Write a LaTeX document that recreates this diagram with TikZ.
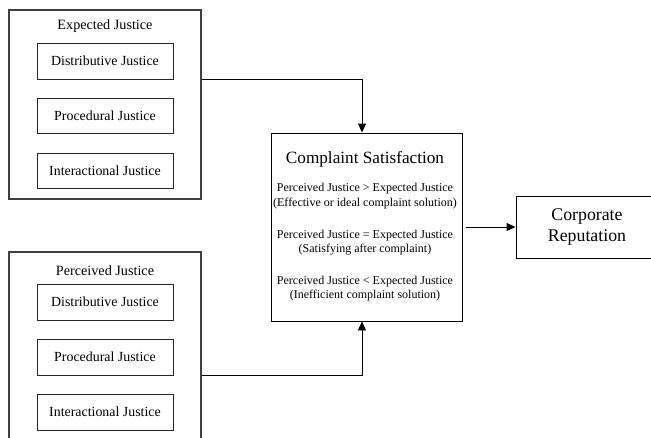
\documentclass[tikz,border=0pt]{standalone}
\usepackage{fontspec}
\setmainfont{Liberation Serif}
\usetikzlibrary{arrows.meta}
\begin{document}
\begin{tikzpicture}[x=1pt,y=-1pt,
  outerbox/.style={draw=black!75,line width=1.1pt,minimum width=192pt,inner sep=0pt},
  innerbox/.style={draw=black!85,line width=0.9pt,minimum width=136pt,minimum height=35pt,inner sep=0pt,font=\fontsize{13.9}{15}\selectfont},
  titletext/.style={inner sep=0pt,font=\fontsize{14.2}{15}\selectfont},
  bigbox/.style={draw=black,line width=0.9pt,inner sep=0pt},
  condtext/.style={inner sep=0pt,align=center,font=\fontsize{12}{14.5}\selectfont},
  arr/.style={draw=black,line width=0.9pt,-{Triangle[length=9pt,width=8pt]}}]
\useasboundingbox (0,0) rectangle (651,437);
\begin{scope}
\clip (0,0) rectangle (651,437);
% Expected Justice
\node[outerbox,minimum height=189pt] (exp) at (105,104.5) {};
\node[titletext] (expt) at (105,26) {Expected Justice};
\node[innerbox,minimum height=36pt] (ed) at (105,61) {Distributive Justice};
\node[innerbox] (ep) at (105,115.5) {Procedural Justice};
\node[innerbox] (ei) at (105,170.5) {Interactional Justice};
% Perceived Justice
\node[outerbox,minimum height=200pt] (per) at (105,352) {};
\node[titletext] (pert) at (105,271) {Perceived Justice};
\node[innerbox,minimum height=36pt] (pd) at (105,302) {Distributive Justice};
\node[innerbox,minimum height=36pt] (pp) at (105,357) {Procedural Justice};
\node[innerbox,minimum height=36pt] (pi) at (105,412) {Interactional Justice};
% Complaint Satisfaction
\node[bigbox,minimum width=191pt,minimum height=188pt] (cs) at (366.5,227) {};
\node[inner sep=0pt,font=\fontsize{17.2}{19}\selectfont] (cst) at (365,159) {Complaint Satisfaction};
\node[condtext] (c1) at (365,196) {Perceived Justice \textgreater{} Expected Justice\\(Effective or ideal complaint solution)};
\node[condtext] (c2) at (365,242.5) {Perceived Justice = Expected Justice\\(Satisfying after complaint)};
\node[condtext] (c3) at (365,288.5) {Perceived Justice \textless{} Expected Justice\\(Inefficient complaint solution)};
% Corporate Reputation
\node[bigbox,minimum width=142pt,minimum height=62pt,align=center,font=\fontsize{17.8}{21}\selectfont] (cr) at (587,227) {Corporate\\Reputation};
\end{scope}
% connectors
\coordinate (j1) at (362,79);
\coordinate (j2) at (362,375);
\draw[arr] (exp.east |- j1) -| (cs.north -| j1);
\draw[arr] (per.east |- j2) -| (cs.south -| j2);
\draw[arr] (466,227) -- (cr.west);
\end{tikzpicture}
\end{document}
